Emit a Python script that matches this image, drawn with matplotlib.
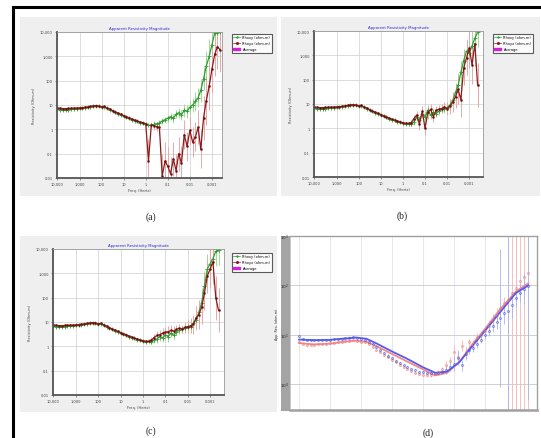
import numpy as np
import matplotlib.pyplot as plt
from matplotlib.patches import Rectangle, Patch
from matplotlib.lines import Line2D
from matplotlib.ticker import NullLocator

W, H = 541, 439

# frequentie (Hz), gedeeld door panelen a-c; paneel d gebruikt periode = 1/f
freq = [10000, 7500, 5600, 4200, 3200, 2400, 1800, 1330,
        1000, 750, 560, 420, 320, 240, 180, 133,
        100, 75, 56, 42, 32, 24, 18, 13.3,
        10, 7.5, 5.6, 4.2, 3.2, 2.4, 1.8, 1.33,
        1, 0.75, 0.56, 0.42, 0.32, 0.24, 0.18, 0.133,
        0.1, 0.075, 0.056, 0.042, 0.032, 0.024, 0.018, 0.0133,
        0.01, 0.0075, 0.0056, 0.0042, 0.0032, 0.0024, 0.0018, 0.00133,
        0.001, 0.00075, 0.00056, 0.00042]

# gladde beginstuk (f = 10000 .. 0.75 Hz)
head_xy = [6.6, 6.4, 6.3, 6.4, 6.5, 6.6, 6.8, 7.0, 7.2, 7.5, 7.8, 8.1, 8.5, 8.9, 9.2, 8.8,
           8.1, 8.5, 7.2, 6.5, 5.7, 5.0, 4.4, 3.9, 3.5, 3.1, 2.8, 2.5, 2.3, 2.1, 1.9, 1.75,
           1.6, 1.5]
head_yx = [7.6, 7.3, 7.1, 7.1, 7.2, 7.3, 7.4, 7.5, 7.6, 7.8, 8.0, 8.3, 8.7, 9.1, 9.4, 9.1,
           8.4, 8.7, 7.5, 6.7, 5.9, 5.2, 4.6, 4.1, 3.7, 3.3, 3.0, 2.6, 2.4, 2.2, 2.0, 1.85,
           1.7, 1.6]

# paneel a
a_xy = head_xy + [1.45, 1.6, 1.7, 1.8, 2.2, 2.5, 2.9, 3.3, 2.8, 4.2, 4.8, 4.0, 6.0, 5.5,
                  8.0, 10, 14, 20, 40, 120, 400, 1000, 3000, 9000, 9500, 9800]
a_yx = head_yx[:33] + [0.05, 1.5, 1.4, 1.3, 1.2, 0.012, 0.05, 0.03, 0.015, 0.06, 0.02,
                       0.1, 0.04, 0.6, 0.2, 0.9, 0.3, 0.5, 1.2, 0.15, 3, 15, 60, 300,
                       1200, 2500, 1800]
a_xy_err = [1.03] * 34 + [1.1, 1.1, 1.15, 1.2, 1.3, 1.3, 1.4, 1.4, 1.5, 1.5, 1.6, 1.6, 1.8,
                          1.8, 2, 2, 2.5, 2.5, 3, 3, 4, 5, 5, 5, 5, 5]
a_yx_err = [1.03] * 33 + [8, 1.3, 1.5, 1.5, 2, 8, 6, 6, 5, 5, 5, 5, 5, 4, 4, 4, 4, 4, 5, 6,
                          8, 10, 10, 10, 8, 8, 8]

# paneel b
b_xy = head_xy + [1.5, 1.5, 1.8, 2.8, 2.2, 4.0, 3.0, 5.5, 3.5, 4.5, 4.0, 5.0, 6.0, 6.5,
                  7.0, 9, 14, 30, 60, 200, 600, 1500, 1200, 2500, 5000, 9000]
b_yx = head_yx + [1.6, 1.7, 2.5, 3.5, 1.5, 5.0, 1.0, 4.5, 6.0, 3.0, 5.5, 6.0, 6.5, 7.5,
                  6.5, 8, 12, 20, 40, 15, 300, 800, 2000, 400, 3000, 60]
b_xy_err = [1.03] * 34 + [1.1, 1.2, 1.3, 1.4, 1.5, 1.5, 1.6, 1.6, 1.5, 1.5, 1.4, 1.4, 1.4,
                          1.5, 1.6, 1.8, 2, 2.5, 3, 3, 3, 3, 4, 4, 4, 4]
b_yx_err = [1.03] * 34 + [1.1, 1.3, 1.4, 1.5, 1.7, 1.7, 1.8, 1.8, 1.6, 1.6, 1.5, 1.5, 1.5,
                          1.6, 1.8, 2, 2.5, 3, 4, 5, 5, 5, 6, 6, 8, 8]

# paneel c
c_xy = head_xy + [1.6, 1.5, 1.8, 2.0, 2.5, 2.2, 3.0, 2.5, 3.5, 2.8, 4.0, 4.5, 5.0, 5.5,
                  6.0, 6.5, 9, 12, 25, 60, 300, 1500, 2500, 4000, 8000, 9000]
c_yx = head_yx + [1.6, 1.8, 2.3, 2.8, 3.0, 3.5, 3.8, 4.0, 4.5, 4.2, 5.0, 5.5, 5.2, 6.0,
                  6.5, 7, 8, 15, 20, 40, 150, 800, 1500, 3000, 100, 30]
c_xy_err = [1.03] * 34 + [1.1, 1.2, 1.3, 1.4, 1.5, 1.5, 1.6, 1.6, 1.5, 1.5, 1.4, 1.4, 1.4,
                          1.5, 1.6, 1.8, 2, 2.5, 3, 4, 4, 4, 4, 4, 4, 4]
c_yx_err = [1.03] * 34 + [1.1, 1.3, 1.4, 1.5, 1.6, 1.6, 1.7, 1.7, 1.6, 1.6, 1.5, 1.5, 1.5,
                          1.6, 1.8, 2, 2.5, 3, 4, 5, 5, 5, 6, 8, 8, 8]

# paneel d (blauw / rood, tegen periode)
d_blue = [9.5, 8.2, 7.9, 7.8, 7.8, 7.8, 7.8, 7.9, 8.0, 8.1, 8.2, 8.4, 8.6, 8.8, 8.9, 8.7,
          8.2, 8.0, 7.3, 6.4, 5.6, 4.9, 4.3, 3.8, 3.4, 3.0, 2.7, 2.4, 2.2, 2.0, 1.9, 1.8,
          1.75, 1.7, 1.65, 1.65, 1.7, 1.8, 1.9, 2.2, 2.6, 3.4, 2.4, 4.0, 5.0, 5.5, 6.5, 8,
          10, 12, 15, 18, 22, 27, 30, 40, 55, 70, 85, 95]
d_red = [7.0, 6.5, 6.3, 6.3, 6.3, 6.4, 6.5, 6.6, 6.7, 6.8, 7.0, 7.2, 7.4, 7.6, 7.7, 7.5,
         7.0, 7.2, 6.4, 5.7, 5.0, 4.4, 3.9, 3.5, 3.1, 2.8, 2.5, 2.2, 2.0, 1.85, 1.7, 1.6,
         1.55, 1.5, 1.5, 1.6, 1.8, 2.0, 2.5, 3.0, 4.5, 3.5, 6.0, 4.5, 7.0, 6.5, 9, 10,
         12, 15, 20, 25, 35, 45, 50, 70, 90, 120, 150, 180]
d_blue_err = [1.05] * 34 + [1.05, 1.05, 1.1, 1.1, 1.2, 1.2, 1.4, 1.4, 1.3, 1.3, 1.2, 1.2,
                            1.2, 1.2, 1.2, 1.3, 1.3, 1.4, 25, 1.6, 300, 1.8, 1.5, 1.5, 2, 200]
d_red_err = [1.05] * 34 + [1.05, 1.05, 1.1, 1.1, 1.2, 1.2, 1.4, 1.4, 1.3, 1.3, 1.2, 1.2,
                           1.2, 1.2, 1.2, 1.3, 1.3, 1.4, 1.5, 1.3, 1000, 500, 1000, 1000,
                           800, 1000]
model_T = [1e-4, 3e-4, 1e-3, 3e-3, 7e-3, 0.015, 0.03, 0.1, 0.3, 1, 2.5, 6, 15, 40, 100,
           300, 1000, 2500]
model_blue = [8.0, 7.8, 7.9, 8.4, 8.8, 8.3, 6.8, 4.6, 3.3, 2.2, 1.7, 1.8, 2.8, 6, 12,
              28, 70, 100]
model_red = [6.8, 6.4, 6.6, 7.3, 7.6, 7.2, 6.0, 4.1, 2.9, 2.0, 1.5, 1.7, 2.8, 6.5, 13,
             32, 75, 110]

x_ticks = [10000, 1000, 100, 10, 1, 0.1, 0.01, 0.001]
x_labels = ['10,000', '1,000', '100', '10', '1', '0.1', '0.01', '0.001']
y_ticks = [0.01, 0.1, 1, 10, 100, 1000, 10000]
y_labels = ['0.01', '0.1', '1', '10', '100', '1,000', '10,000']
legend_labels = ['Rhoxy (ohm-m)', 'Rhoyx (ohm-m)', 'Average']


def box(x0, y0, x1, y1):
    # pixelrechthoek (vanaf linksboven) naar figuurfracties
    return [x0 / W, 1 - y1 / H, (x1 - x0) / W, (y1 - y0) / H]


def yerr(vals, fac):
    v = np.array(vals, dtype=float)
    f = np.array(fac, dtype=float)
    return [v - v / f, v * f - v]


fig = plt.figure(figsize=(W / 100, H / 100), dpi=100)
fig.patch.set_facecolor('white')

# zwarte kader links en boven
fig.add_artist(Line2D([13 / W, 13 / W], [0, 1 - 8 / H], color='black', lw=2.2))
fig.add_artist(Line2D([13 / W, 1], [1 - 8 / H, 1 - 8 / H], color='black', lw=2.2))


def mt_panel(bg, axpos, legpos, xy, yx, exy, eyx, xlim):
    b = box(*bg)
    fig.add_artist(Rectangle((b[0], b[1]), b[2], b[3], transform=fig.transFigure,
                             facecolor='#efefef', edgecolor='none', zorder=0))
    ax = fig.add_axes(box(*axpos))
    ax.set_xscale('log')
    ax.set_yscale('log')
    ax.errorbar(freq, xy, yerr=yerr(xy, exy), fmt='-', color='#2e9e2e', lw=0.9,
                marker='+', ms=2.2, mew=0.6, ecolor='#9edc96', elinewidth=0.7, capsize=0)
    ax.errorbar(freq, yx, yerr=yerr(yx, eyx), fmt='-', color='#8c1c1c', lw=0.9,
                marker='o', ms=1.5, mew=0.3, mfc='#5a1010', ecolor='#e8a8a8',
                elinewidth=0.7, capsize=0)
    ax.set_xlim(*xlim)
    ax.set_ylim(0.01, 10000)
    ax.set_xticks(x_ticks, x_labels)
    ax.set_yticks(y_ticks, y_labels)
    ax.xaxis.set_minor_locator(NullLocator())
    ax.yaxis.set_minor_locator(NullLocator())
    ax.tick_params(labelsize=2.6, length=1.5, width=0.4, pad=1.5, colors='#444444')
    ax.grid(True, color='#cfcfcf', lw=0.5)
    for s in ['left', 'bottom']:
        ax.spines[s].set_color('#555555')
        ax.spines[s].set_linewidth(1.3)
    for s in ['top', 'right']:
        ax.spines[s].set_color('#9a9a9a')
        ax.spines[s].set_linewidth(0.6)
    ax.set_title('Apparent Resistivity Magnitude', fontsize=2.8, color='#2828d8', pad=2)
    ax.set_xlabel('Freq. (Hertz)', fontsize=2.6, labelpad=1, color='#444444')
    ax.set_ylabel('Resistivity (Ohm-m)', fontsize=2.6, labelpad=3, color='#444444')
    handles = [Line2D([], [], color='#2e9e2e', marker='+', ms=2, lw=0.5),
               Line2D([], [], color='#8c1c1c', marker='o', ms=1.2, lw=0.5),
               Patch(facecolor='#d81ed8', edgecolor='#d81ed8')]
    leg = fig.legend(handles, legend_labels, loc='upper left',
                     bbox_to_anchor=(legpos[0] / W, 1 - legpos[1] / H),
                     fontsize=2.5, frameon=True, fancybox=False, handlelength=2.0,
                     handletextpad=0.6, borderpad=0.5, labelspacing=0.5)
    leg.get_frame().set_edgecolor('#333333')
    leg.get_frame().set_linewidth(0.8)
    return ax


mt_panel((20, 18, 277, 197), (57, 33, 222, 179), (230, 33), a_xy, a_yx,
         a_xy_err, a_yx_err, (10500, 0.00035))
mt_panel((281, 18, 540, 197), (314, 32, 483, 178), (491, 33), b_xy, b_yx,
         b_xy_err, b_yx_err, (10500, 0.00024))
mt_panel((20, 237, 277, 413), (53, 250, 224, 396), (230, 252), c_xy, c_yx,
         c_xy_err, c_yx_err, (10500, 0.00024))

# paneel d
b = box(281, 237, 291, 412)
fig.add_artist(Rectangle((b[0], b[1]), b[2], b[3], transform=fig.transFigure,
                         facecolor='#a4a4a4', edgecolor='none', zorder=0))
axd = fig.add_axes(box(290, 237, 537, 411))
period = 1.0 / np.array(freq)
axd.set_xscale('log')
axd.set_yscale('log')
axd.errorbar(period, d_red, yerr=yerr(d_red, d_red_err), fmt='o', ms=1.5, mew=0.4,
             color='#f07878', mfc='none', ecolor='#f6b4b4', elinewidth=0.6, capsize=0)
axd.errorbar(period, d_blue, yerr=yerr(d_blue, d_blue_err), fmt='o', ms=1.5, mew=0.4,
             color='#4a5ae0', mfc='none', ecolor='#a8b4f2', elinewidth=0.6, capsize=0)
axd.plot(model_T, model_red, color='#f08a8a', lw=1.3)
axd.plot(model_T, model_blue, color='#5a5ae6', lw=1.3)
axd.set_xlim(5.1e-5, 4800)
axd.set_ylim(0.3, 950)
axd.set_xticks([1e-4, 1e-3, 1e-2, 0.1, 1, 10, 100, 1000])
axd.set_yticks([1, 10, 100, 1000], ['$10^0$', '$10^1$', '$10^2$', '$10^3$'])
axd.xaxis.set_minor_locator(NullLocator())
axd.yaxis.set_minor_locator(NullLocator())
axd.tick_params(axis='x', labelbottom=False, length=0)
axd.tick_params(axis='y', labelsize=3, length=0, pad=1, labelcolor='#222222')
axd.grid(True, axis='x', color='#e2e2ee', lw=0.6)
axd.grid(True, axis='y', color='#c8c8d0', lw=0.6)
for s in axd.spines.values():
    s.set_color('#a0a0a0')
    s.set_linewidth(1.0)
axd.spines['bottom'].set_linewidth(1.8)
axd.spines['left'].set_linewidth(0.4)
axd.set_ylabel('App. Res. (ohm-m)', fontsize=2.4, labelpad=0.5, color='#333333')

# onderschriften
for lab, x, y in [('(a)', 151, 217), ('(b)', 402, 216), ('(c)', 151, 431), ('(d)', 428, 433)]:
    fig.text(x / W, 1 - y / H, lab, ha='center', va='center', fontsize=7,
             family='Liberation Serif', color='#222222')

plt.savefig('out.png', dpi=100)
